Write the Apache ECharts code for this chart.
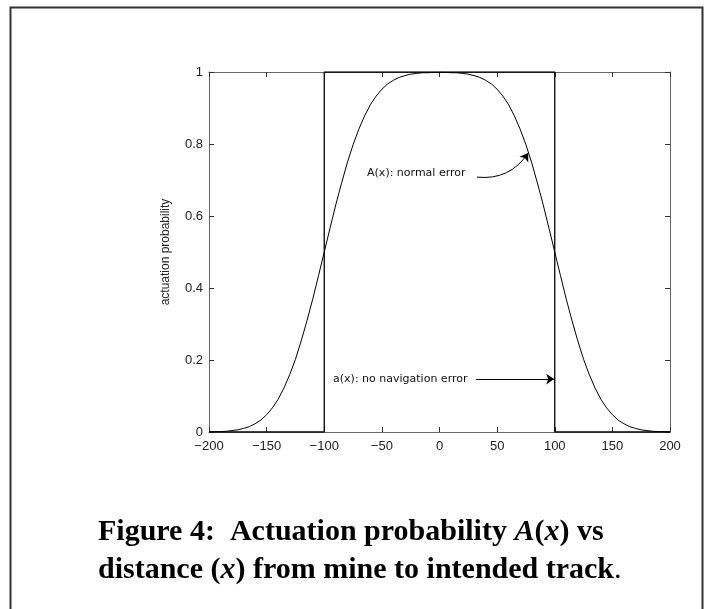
<!DOCTYPE html>
<html>
<head>
<meta charset="utf-8">
<script src="https://cdn.jsdelivr.net/npm/echarts@6/dist/echarts.min.js"></script>
<style>html,body{margin:0;padding:0;background:#fff;}#c{width:708px;height:609px;}</style>
</head>
<body>
<div id="c"></div>
<script>
// distance x and actuation probabilities
const xs = [-200,-195,-190,-185,-180,-175,-170,-165,-160,-155,-150,-145,-140,-135,-130,-125,-120,-115,-110,-105,-100,-95,-90,-85,-80,-75,-70,-65,-60,-55,-50,-45,-40,-35,-30,-25,-20,-15,-10,-5,0,5,10,15,20,25,30,35,40,45,50,55,60,65,70,75,80,85,90,95,100,105,110,115,120,125,130,135,140,145,150,155,160,165,170,175,180,185,190,195,200];
const normalErr = [0.000,0.001,0.001,0.002,0.004,0.006,0.010,0.015,0.023,0.033,0.048,0.067,0.091,0.122,0.159,0.202,0.253,0.309,0.369,0.434,0.500,0.566,0.631,0.691,0.748,0.798,0.841,0.878,0.909,0.933,0.952,0.967,0.977,0.985,0.990,0.994,0.996,0.998,0.998,0.999,0.999,0.999,0.998,0.998,0.996,0.994,0.990,0.985,0.977,0.967,0.952,0.933,0.909,0.878,0.841,0.798,0.748,0.691,0.631,0.566,0.500,0.434,0.369,0.309,0.253,0.202,0.159,0.122,0.091,0.067,0.048,0.033,0.023,0.015,0.010,0.006,0.004,0.002,0.001,0.001,0.000];
const stepX = [-200,-100,-100,100,100,200];
const stepY = [0,0,1,1,0,0];
const xTicks = [-200,-150,-100,-50,0,50,100,150,200];
const yTicks = [0,0.2,0.4,0.6,0.8,1];
// annotation anchors (data coordinates)
const curveArrow = [[32.5,0.708],[77,0.775]];
const flatArrow = [[31.7,0.147],[99.5,0.147]];

const chart = echarts.init(document.getElementById('c'), null, {renderer:'canvas'});
const axisCol = '#666';
const labelFont = {fontFamily:'Liberation Sans, Arial, sans-serif', fontSize:13, color:'#222'};
const curveData = xs.map((x,i)=>[x, normalErr[i]]);
const stepData = stepX.map((x,i)=>[x, stepY[i]]);
const annFont = {fontFamily:'DejaVu Sans, sans-serif', fontSize:11, color:'#111'};
const serif = 'Liberation Serif, Times New Roman, serif';

chart.setOption({
  animation:false,
  backgroundColor:'#fff',
  grid:{left:209, right:38, top:72, bottom:177},
  title:{
    left:93, top:508,
    text:'{b|Figure 4:  Actuation probability }{i|A}{b|(}{i|x}{b|) vs}\n{b|distance (}{i|x}{b|) from mine to intended track}{n|.}',
    textStyle:{
      lineHeight:38,
      rich:{
        b:{fontFamily:serif, fontWeight:'bold', fontSize:30, color:'#000', lineHeight:38},
        i:{fontFamily:serif, fontWeight:'bold', fontStyle:'italic', fontSize:30, color:'#000', lineHeight:38},
        n:{fontFamily:serif, fontWeight:'normal', fontSize:30, color:'#000', lineHeight:38}
      }
    }
  },
  xAxis:[
    {type:'value', min:-200, max:200, interval:50, position:'bottom',
     axisLine:{show:true, onZero:false, lineStyle:{color:axisCol, width:1}},
     axisTick:{show:true, inside:true, length:5, lineStyle:{color:'#333'}},
     axisLabel:Object.assign({margin:8, formatter:v=>String(v).replace('-','\u2212')}, labelFont),
     splitLine:{show:false}},
    {type:'value', min:-200, max:200, interval:50, position:'top',
     axisLine:{show:true, onZero:false, lineStyle:{color:axisCol, width:1}},
     axisTick:{show:true, inside:true, length:5, lineStyle:{color:'#333'}},
     axisLabel:{show:false}, splitLine:{show:false}}
  ],
  yAxis:[
    {type:'value', min:0, max:1, interval:0.2, position:'left',
     name:'actuation probability', nameLocation:'middle', nameGap:37, nameRotate:90,
     nameTextStyle:{fontFamily:'Liberation Sans, Arial, sans-serif', fontSize:12, color:'#222'},
     axisLine:{show:true, onZero:false, lineStyle:{color:axisCol, width:1}},
     axisTick:{show:true, inside:true, length:5, lineStyle:{color:'#333'}},
     axisLabel:Object.assign({margin:6}, labelFont),
     splitLine:{show:false}},
    {type:'value', min:0, max:1, interval:0.2, position:'right',
     axisLine:{show:true, onZero:false, lineStyle:{color:axisCol, width:1}},
     axisTick:{show:true, inside:true, length:5, lineStyle:{color:'#333'}},
     axisLabel:{show:false}, splitLine:{show:false}}
  ],
  series:[
    {type:'line', name:'A(x)', data:curveData, smooth:false, showSymbol:false,
     lineStyle:{color:'#000', width:1}, z:3,
     markPoint:{silent:true, symbol:'circle', symbolSize:1, itemStyle:{color:'rgba(0,0,0,0)'},
       data:[
         {coord:[26.5,0.719], label:Object.assign({show:true, position:'left', distance:4, formatter:'A(x): normal error'}, annFont)},
         {coord:[28.2,0.147], label:Object.assign({show:true, position:'left', distance:4, formatter:'a(x): no navigation error'}, annFont)}
       ]}
    },
    {type:'line', name:'a(x)', data:stepData, showSymbol:false,
     lineStyle:{color:'#000', width:1.3}, z:2},
    {type:'lines', coordinateSystem:'cartesian2d', silent:true, z:4,
     symbol:['none','arrow'], symbolSize:8,
     lineStyle:{color:'#000', width:1, curveness:-0.3, opacity:1},
     data:[{coords:curveArrow}]},
    {type:'lines', coordinateSystem:'cartesian2d', silent:true, z:4,
     symbol:['none','arrow'], symbolSize:8,
     lineStyle:{color:'#000', width:1, curveness:0, opacity:1},
     data:[{coords:flatArrow}]}
  ],
  graphic:[
    {type:'rect', left:8, top:5, shape:{x:0,y:0,width:692,height:640},
     style:{fill:'none', stroke:'#333', lineWidth:2}, silent:true, z:-1}
  ]
});
</script>
</body>
</html>
